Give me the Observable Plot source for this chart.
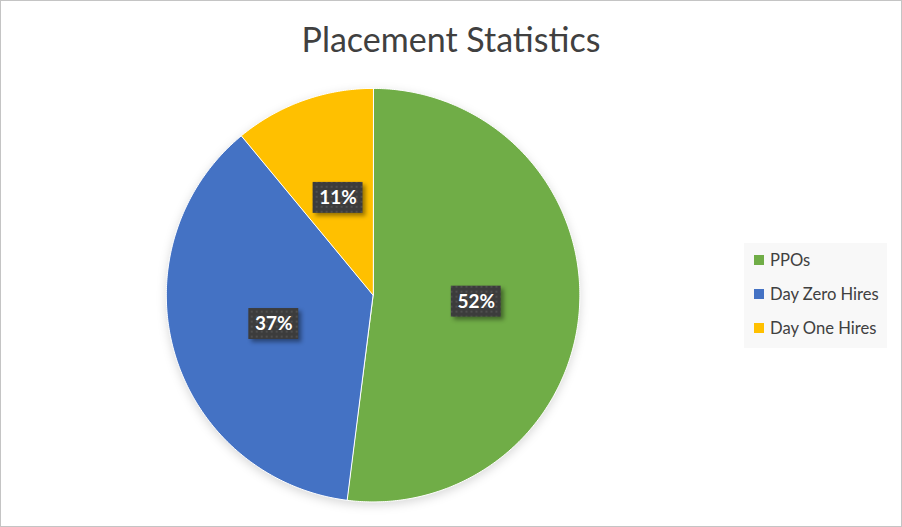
<!DOCTYPE html>
<html><head><meta charset="utf-8">
<script src="https://cdn.jsdelivr.net/npm/d3@7"></script>
<script src="https://cdn.jsdelivr.net/npm/@observablehq/plot@0.6"></script>
<style>
body{margin:0;background:#fff;}
#wrap{position:relative;width:902px;height:527px;box-sizing:border-box;border:1px solid #c4c4c4;overflow:hidden;font-family:Lato,"Open Sans",sans-serif;background:#fff;}
#chart{position:absolute;left:-1px;top:-1px;}
#title{position:absolute;left:-1px;width:902px;top:17px;text-align:center;font-size:34px;color:#404040;}
#legend{position:absolute;left:743px;top:242px;width:143px;height:105px;background:#f8f8f8;}
.item{position:absolute;left:0;height:20px;display:flex;align-items:center;font-size:16.6px;color:#404040;white-space:nowrap;}
.sw{width:10px;height:10px;margin-left:10px;margin-right:6px;}
</style></head>
<body>
<svg width="0" height="0" style="position:absolute">
  <defs>
    <pattern id="dots" width="5" height="5" patternUnits="userSpaceOnUse">
      <rect width="5" height="5" fill="#3c3c3c"></rect>
      <rect x="1" y="1" width="2" height="2" fill="#4f4f4f"></rect>
    </pattern>
  </defs>
</svg>
<div id="wrap">
  <div id="chart"></div>
  <div id="title">Placement Statistics</div>
  <div id="legend"></div>
</div>
<script>
const categories = ["PPOs", "Day Zero Hires", "Day One Hires"];
const values = [52, 37, 11];
const labels = ["52%", "37%", "11%"];
const colors = ["#70AD47", "#4472C4", "#FFC000"];

const rows = categories.map((c, i) => ({category: c, value: values[i], label: labels[i]}));
const arcs = d3.pie().sort(null).value(d => d.value)(rows);

// polygon vertices of each slice in unit-circle data space (angle clockwise from top)
const slicePts = [];
for (const a of arcs) {
  const cat = a.data.category;
  slicePts.push({category: cat, x: 0, y: 0});
  const n = Math.max(2, Math.ceil((a.endAngle - a.startAngle) / 0.01));
  for (let k = 0; k <= n; k++) {
    const t = a.startAngle + (a.endAngle - a.startAngle) * k / n;
    slicePts.push({category: cat, x: Math.sin(t), y: Math.cos(t)});
  }
}
const labelData = arcs.map(a => {
  const m = (a.startAngle + a.endAngle) / 2;
  return {category: a.data.category, label: a.data.label, x: 0.5 * Math.sin(m), y: 0.5 * Math.cos(m)};
});

const plot = Plot.plot({
  width: 902,
  height: 527,
  margin: 0,
  x: {domain: [-1, 1], range: [166, 580], axis: null},
  y: {domain: [-1, 1], range: [502, 88], axis: null},
  color: {domain: categories, range: colors},
  marks: [
    Plot.line(slicePts, {x: "x", y: "y", z: "category", fill: "category", stroke: "white", strokeWidth: 1, curve: "linear-closed"}),
    Plot.rect(labelData, {x1: "x", x2: "x", y1: "y", y2: "y", insetLeft: -25, insetRight: -25, insetTop: -15.5, insetBottom: -15.5, fill: "url(#dots)"}),
    Plot.text(labelData, {x: "x", y: "y", text: "label", fill: "white", fontWeight: "bold", fontSize: 19, fontFamily: "Lato, 'Open Sans', sans-serif"})
  ]
});
document.getElementById("chart").appendChild(plot);
plot.querySelectorAll('g[aria-label="rect"] rect').forEach(r => r.style.filter = "drop-shadow(3px 3px 2px rgba(0,0,0,0.4))");
const pieG = plot.querySelector('g[aria-label="line"]');
if (pieG) pieG.style.filter = "drop-shadow(0 3px 5px rgba(0,0,0,0.15))";

const legend = document.getElementById("legend");
categories.forEach((c, i) => {
  const it = document.createElement("div");
  it.className = "item";
  it.style.top = (7 + i * 34) + "px";
  it.innerHTML = `<span class="sw" style="background:${colors[i]}"></span><span>${c}</span>`;
  legend.appendChild(it);
});
</script>
</body></html>
